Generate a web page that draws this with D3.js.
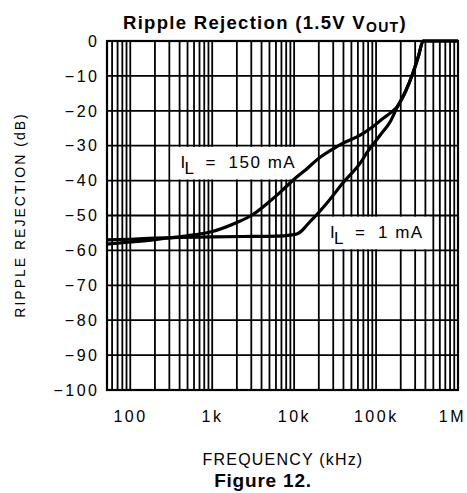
<!DOCTYPE html>
<html>
<head>
<meta charset="utf-8">
<script src="https://cdn.jsdelivr.net/npm/d3@7/dist/d3.min.js"></script>
<style>
  body { margin: 0; background: #fff; }
  text { font-family: "Liberation Sans", Arial, Helvetica, sans-serif; fill: #000; }
</style>
</head>
<body>
<script>
// ---- data ----
var freqTicks  = [100, 1000, 10000, 100000, 1000000];
var freqLabels = ["100", "1k", "10k", "100k", "1M"];
var dbTicks    = [0, -10, -20, -30, -40, -50, -60, -70, -80, -90, -100];

// I_L = 150 mA
var freq150 = [52, 100, 200, 300, 500, 1000, 2000, 3000, 5000, 7000, 10000, 14000, 20000, 30000, 40000, 64000, 92000, 120000, 150000, 180000, 230000, 280000, 330000, 375000, 1000000];
var db150   = [-58.2, -57.6, -56.9, -56.4, -55.8, -54.6, -52, -50, -46, -43, -39.6, -36.8, -33.6, -30.9, -29.2, -27, -24.5, -22.3, -20.6, -18.9, -14.3, -9.3, -4.2, 0, 0];

// I_L = 1 mA
var freq1 = [52, 100, 200, 400, 1000, 3000, 6000, 9000, 11000, 12500, 14000, 16000, 18500, 25000, 40000, 64000, 80000, 112000, 150000, 180000, 230000, 280000, 330000, 375000, 1000000];
var db1   = [-57.0, -56.8, -56.5, -56.3, -56.1, -56, -55.9, -55.6, -55.2, -54.3, -53, -51.5, -50, -46.5, -40.5, -35, -31.5, -27, -23, -19.1, -14.4, -9.4, -4.3, 0, 0];

// ---- layout ----
var width = 467,
    height = 493,
    plotL = 107, plotR = 458, plotT = 41, plotB = 390;

var x = d3.scaleLog().domain([52, 1e6]).range([plotL, plotR]);
var y = d3.scaleLinear().domain([-100, 0]).range([plotB, plotT]);

var svg = d3.select("body").append("svg")
    .attr("width", width)
    .attr("height", height);

// grid
var grid = svg.append("g").attr("stroke", "#000").attr("stroke-width", 1.8);

grid.selectAll("line.v")
    .data(x.ticks())
  .enter().append("line")
    .attr("class", "v")
    .attr("x1", function(d) { return x(d); })
    .attr("x2", function(d) { return x(d); })
    .attr("y1", plotT)
    .attr("y2", plotB);

grid.selectAll("line.h")
    .data(dbTicks)
  .enter().append("line")
    .attr("class", "h")
    .attr("x1", plotL)
    .attr("x2", plotR)
    .attr("y1", function(d) { return y(d); })
    .attr("y2", function(d) { return y(d); });

svg.append("rect")
    .attr("x", plotL).attr("y", plotT)
    .attr("width", plotR - plotL).attr("height", plotB - plotT)
    .attr("fill", "none").attr("stroke", "#000").attr("stroke-width", 2.2);

// tick labels
var ls = 2.5;
svg.append("g").selectAll("text")
    .data(dbTicks)
  .enter().append("text")
    .attr("x", plotL - 10 + ls)
    .attr("y", function(d) { return y(d); })
    .attr("dy", "0.36em")
    .attr("text-anchor", "end")
    .style("font-size", "16px")
    .style("letter-spacing", ls + "px")
    .text(function(d) { return d === 0 ? "0" : "\u2212" + Math.abs(d); });

svg.append("g").selectAll("text")
    .data(freqTicks)
  .enter().append("text")
    .attr("x", function(d) { return x(d) - 1 + ls / 2; })
    .attr("y", 421.5)
    .attr("text-anchor", "middle")
    .style("font-size", "16px")
    .style("letter-spacing", ls + "px")
    .text(function(d, i) { return freqLabels[i]; })
    .each(function() {
      // keep the last label inside the picture, as in the original
      var w = this.getComputedTextLength();
      var cx = +this.getAttribute("x");
      if (cx + w / 2 > width - 1) this.setAttribute("x", width - 1 - w / 2);
    });

// curve labels on white boxes (under the curves)
function curveLabel(f0, f1, dbTop, value) {
  var bx0 = x(f0) + 1.2, bx1 = x(f1);
  var by0 = y(dbTop) + 1.2, by1 = y(dbTop - 10) - 1.2;
  svg.append("rect")
      .attr("x", bx0).attr("y", by0)
      .attr("width", bx1 - bx0).attr("height", by1 - by0)
      .attr("fill", "#fff");
  var base = by0 + 21;
  var t = svg.append("text").style("font-size", "17px");
  t.append("tspan").attr("x", bx0 + 10).attr("y", base).text("I");
  t.append("tspan").attr("x", bx0 + 14).attr("y", base + 6.5).text("L");
  t.append("tspan").attr("x", bx0 + 35).attr("y", base).text("=");
  t.append("tspan").attr("x", bx0 + 58).attr("y", base)
      .style("letter-spacing", "1.5px")
      .attr("xml:space", "preserve")
      .text(value);
}
curveLabel(300, 11000, -30, "150 mA");
curveLabel(20000, 450000, -50, "1 mA");

// curves
var line = d3.line()
    .x(function(d) { return x(d[0]); })
    .y(function(d) { return y(d[1]); })
    .curve(d3.curveMonotoneX);

[[freq150, db150], [freq1, db1]].forEach(function(s) {
  svg.append("path")
      .datum(d3.zip(s[0], s[1]))
      .attr("d", line)
      .attr("fill", "none")
      .attr("stroke", "#000")
      .attr("stroke-width", 3.2)
      .attr("stroke-linejoin", "round");
});

// titles
var title = svg.append("text")
    .attr("x", 123).attr("y", 28.5)
    .style("font-size", "18.5px")
    .style("font-weight", "bold")
    .style("letter-spacing", "1.3px");
title.append("tspan").text("Ripple Rejection (1.5V V");
title.append("tspan").attr("dy", 3.5).style("font-size", "14px").text("OUT");
title.append("tspan").attr("dy", -3.5).text(")");

svg.append("text")
    .attr("transform", "translate(25,215) rotate(-90)")
    .attr("text-anchor", "middle")
    .style("font-size", "14px")
    .style("letter-spacing", "2px")
    .text("RIPPLE REJECTION (dB)");

svg.append("text")
    .attr("x", 283).attr("y", 465)
    .attr("text-anchor", "middle")
    .style("font-size", "16px")
    .style("letter-spacing", "1.2px")
    .text("FREQUENCY (kHz)");

svg.append("text")
    .attr("x", 263).attr("y", 487)
    .attr("text-anchor", "middle")
    .style("font-size", "19px")
    .style("font-weight", "bold")
    .style("letter-spacing", "0.8px")
    .text("Figure 12.");
</script>
</body>
</html>
